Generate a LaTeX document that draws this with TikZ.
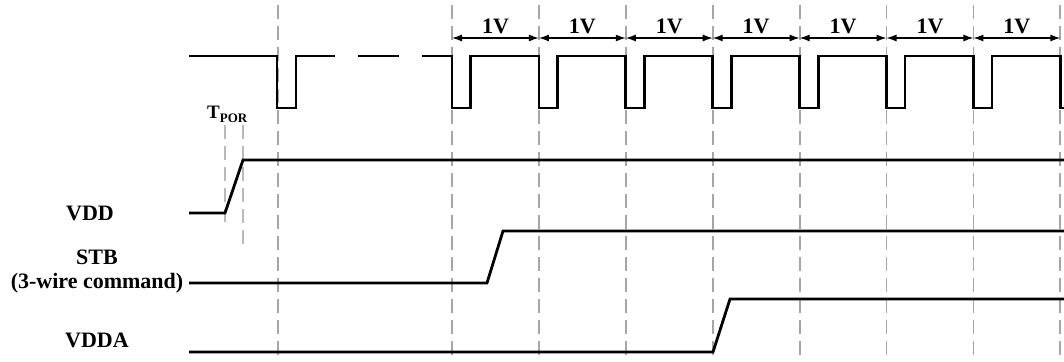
\documentclass[tikz,border=0pt]{standalone}
\usepackage{fontspec}
\setmainfont{Liberation Serif}
\usetikzlibrary{arrows.meta}
\begin{document}
\begin{tikzpicture}[x=1pt,y=-1pt,
  sig/.style={line width=2.8pt, line join=miter},
  gridline/.style={gray!70, line width=1.8pt, dash pattern=on 14pt off 7pt},
  dimline/.style={line width=1.2pt, {Latex[length=10pt,width=7pt]}-{Latex[length=10pt,width=7pt]}},
  lbl/.style={font=\fontsize{22}{24}\selectfont\bfseries, inner sep=0pt},
]
\useasboundingbox (0,0) rectangle (1064,361);
% vertical dashed guides
\coordinate (g0) at (278,5);
\draw[gridline] (g0) -- (278,361);
\foreach \i in {0,...,7} {
  \coordinate (v\i) at (452+86.9*\i,5);
  \draw[gridline] (v\i) -- (452+86.9*\i,361);
}
% TPOR guides
\coordinate (t1) at (225,125);
\coordinate (t2) at (243,125);
\draw[gridline, gray!55] (t1) -- (225,222);
\draw[gridline, gray!55] (t2) -- (243,245);
% 1V dimension arrows
\foreach \i in {0,...,6} {
  \coordinate (a\i) at (452+86.9*\i,38);
  \coordinate (b\i) at (452+86.9*\i+86.9,38);
  \draw[dimline] (a\i) -- (b\i) node[midway, above=4pt, lbl] {1V};
}
% top signal
\draw[sig] (189,56) -- (277,56) -- (277,108) -- (296,108) -- (296,56) -- (335,56);
\draw[sig] (358,56) -- (399,56);
\draw[sig] (422,56)
  \foreach \i in {0,...,6} { -- (452+86.9*\i,56) -- (452+86.9*\i,108) -- (470.5+86.9*\i,108) -- (470.5+86.9*\i,56) }
  -- (1060.3,56) -- (1060.3,108) -- (1070,108);
% VDD
\draw[sig] (189,213) -- (225,213) -- (243,160) -- (1066,160);
% STB
\draw[sig] (189,283) -- (487,283) -- (503,231) -- (1066,231);
% VDDA
\draw[sig] (189,352) -- (713,352) -- (730,299) -- (1066,299);
% labels
\node[lbl] (vdd) at (90,213) {VDD};
\node[lbl] (stb) at (97,257) {STB};
\node[lbl] (cmd) at (97,283) {(3-wire command)};
\node[lbl] (vdda) at (97,340) {VDDA};
\node[inner sep=0pt, anchor=base west] (tpor) at (207,118)
  {\fontsize{19}{20}\selectfont\bfseries T\raisebox{-4pt}{\fontsize{13}{14}\selectfont POR}};
\end{tikzpicture}
\end{document}
